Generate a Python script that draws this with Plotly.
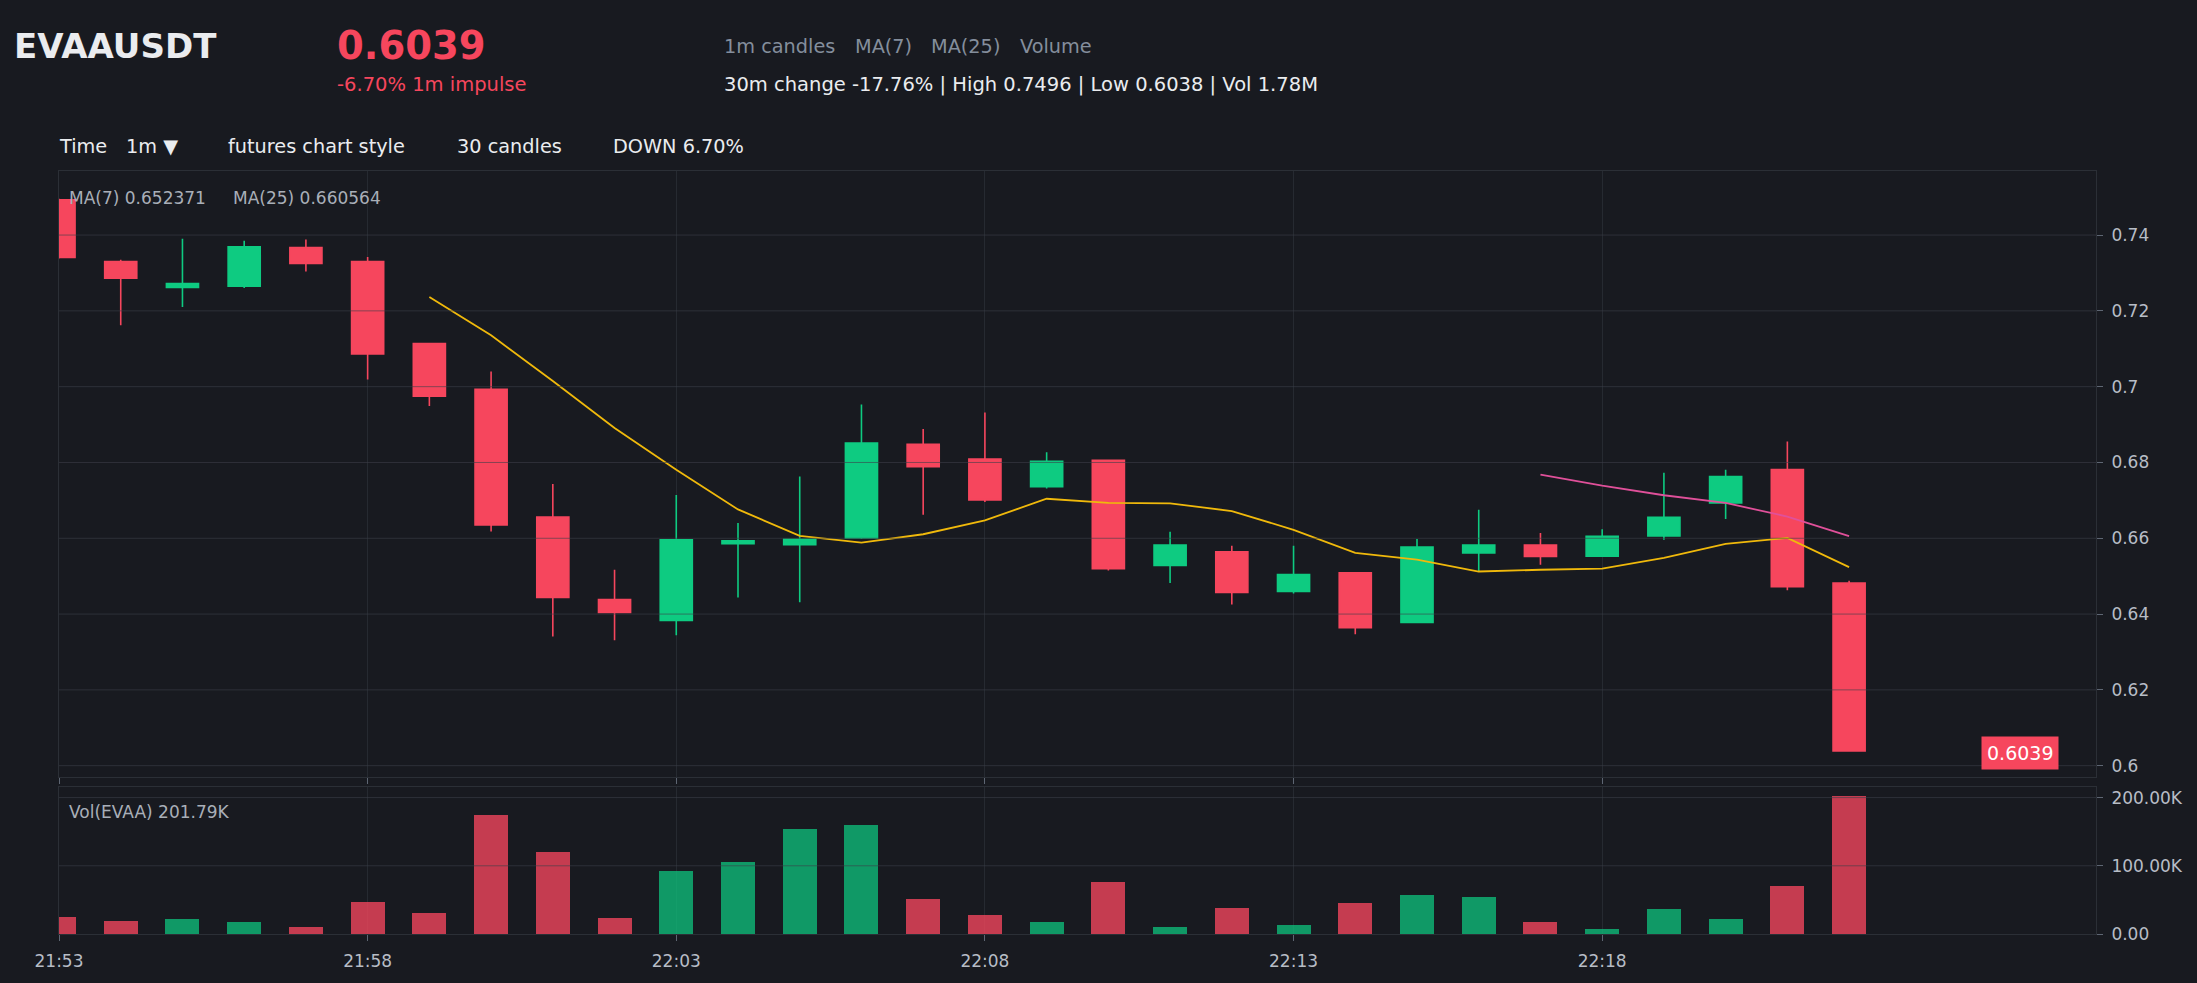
import plotly.graph_objects as go

# ---------------- data ----------------
DAY = "2025-01-01 "
times = ["21:53", "21:54", "21:55", "21:56", "21:57", "21:58", "21:59", "22:00", "22:01", "22:02",
         "22:03", "22:04", "22:05", "22:06", "22:07", "22:08", "22:09", "22:10", "22:11", "22:12",
         "22:13", "22:14", "22:15", "22:16", "22:17", "22:18", "22:19", "22:20", "22:21", "22:22"]

opens = [0.7493, 0.7330, 0.7262, 0.7265, 0.7367, 0.7330, 0.7114, 0.6993, 0.6656, 0.6438,
         0.6383, 0.6586, 0.6583, 0.6601, 0.6848, 0.6809, 0.6736, 0.6806, 0.6528, 0.6564,
         0.6460, 0.6509, 0.6378, 0.6561, 0.6582, 0.6553, 0.6606, 0.6693, 0.6781, 0.6482]
highs = [0.7496, 0.7335, 0.7390, 0.7385, 0.7388, 0.7342, 0.7116, 0.7040, 0.6743, 0.6517,
         0.6714, 0.6640, 0.6763, 0.6953, 0.6888, 0.6932, 0.6827, 0.6808, 0.6617, 0.6580,
         0.6580, 0.6510, 0.6598, 0.6675, 0.6614, 0.6624, 0.6773, 0.6781, 0.6855, 0.6488]
lows = [0.7338, 0.7162, 0.7210, 0.7260, 0.7304, 0.7019, 0.6949, 0.6618, 0.6341, 0.6331,
        0.6344, 0.6444, 0.6431, 0.6598, 0.6662, 0.6696, 0.6731, 0.6515, 0.6482, 0.6425,
        0.6454, 0.6347, 0.6377, 0.6513, 0.6530, 0.6552, 0.6596, 0.6651, 0.6463, 0.6038]
closes = [0.7341, 0.7286, 0.7272, 0.7369, 0.7325, 0.7086, 0.6975, 0.6635, 0.6444, 0.6404,
          0.6596, 0.6593, 0.6597, 0.6851, 0.6789, 0.6701, 0.6803, 0.6520, 0.6582, 0.6457,
          0.6504, 0.6364, 0.6577, 0.6582, 0.6552, 0.6605, 0.6655, 0.6763, 0.6472, 0.6039]
volumes = [24900, 19000, 22000, 17600, 10200, 46800, 30700, 174100, 120000, 23400,
           92200, 105400, 153700, 159500, 51200, 27800, 17600, 76100, 10200, 38000,
           13200, 45400, 57100, 54100, 17600, 7300, 36600, 22000, 70200, 201790]

ma7 = [None, None, None, None, None, None, 0.72363, 0.71354, 0.70151, 0.68911,
       0.67807, 0.66761, 0.66063, 0.65886, 0.66106, 0.66473, 0.67043, 0.66934, 0.66919, 0.66719,
       0.66223, 0.65616, 0.65439, 0.65123, 0.65169, 0.65201, 0.65484, 0.65854, 0.66009, 0.65240]
ma25 = [None] * 24 + [0.67682, 0.67388, 0.67135, 0.66932, 0.66573, 0.66058]

time_ticks = ["21:53", "21:58", "22:03", "22:08", "22:13", "22:18"]
price_ticks = [0.60, 0.62, 0.64, 0.66, 0.68, 0.70, 0.72, 0.74]
vol_ticks = [0, 100000, 200000]
vol_tick_text = ["0.00", "100.00K", "200.00K"]
last_price_text = "0.6039"
last_price = 0.6039

# ---------------- styling ----------------
BG = "#181a20"
RED = "#f6465d"
GREEN = "#0ecb81"
VRED = "rgba(246,70,93,0.78)"
VGREEN = "rgba(14,203,129,0.72)"
GRID = "#262a31"
BORDER = "#2b2f36"
TICKC = "#b7bdc6"
FONT = "DejaVu Sans"

W, H = 2197, 983
L, R, T, B = 59, 101, 171, 47
PW = W - L - R
PH = H - T - B

x = [DAY + t for t in times]
xt = [DAY + t for t in time_ticks]
vcolors = [VGREEN if c >= o else VRED for o, c in zip(opens, closes)]

fig = go.Figure()
fig.add_trace(go.Candlestick(
    x=x, open=opens, high=highs, low=lows, close=closes,
    increasing=dict(line=dict(color=GREEN, width=1.6), fillcolor=GREEN),
    decreasing=dict(line=dict(color=RED, width=1.6), fillcolor=RED),
    xaxis="x", yaxis="y", hoverinfo="skip", showlegend=False))
fig.add_trace(go.Scatter(x=x, y=ma7, mode="lines", line=dict(color="#f0b90b", width=1.8),
                         xaxis="x", yaxis="y", hoverinfo="skip", showlegend=False))
fig.add_trace(go.Scatter(x=x, y=ma25, mode="lines", line=dict(color="#e0509a", width=1.8),
                         xaxis="x", yaxis="y", hoverinfo="skip", showlegend=False))
fig.add_trace(go.Bar(x=x, y=volumes, marker=dict(color=vcolors, line=dict(width=0)),
                     width=33000, xaxis="x2", yaxis="y2", hoverinfo="skip", showlegend=False))


def px_x(px):
    return (px - L) / PW


def px_y(py):
    return (H - B - py) / PH


def ann(text, px, py, size, color, bold=False):
    if bold:
        text = "<b>" + text + "</b>"
    return dict(text=text, x=px_x(px), y=px_y(py), xref="paper", yref="paper",
                xanchor="left", yanchor="middle", showarrow=False,
                font=dict(family=FONT, size=size, color=color))


annotations = [
    ann("EVAAUSDT", 12, 46, 34, "#eaecef", bold=True),
    ann(last_price_text, 335, 45, 38.5, RED, bold=True),
    ann("-6.70% 1m impulse", 335, 84, 19.5, RED),
    ann("1m candles", 722, 46, 19.3, "#848e9c"),
    ann("MA(7)", 853, 46, 19.3, "#848e9c"),
    ann("MA(25)", 929, 46, 19.3, "#848e9c"),
    ann("Volume", 1018, 46, 19.3, "#848e9c"),
    ann("30m change -17.76% | High 0.7496 | Low 0.6038 | Vol 1.78M", 722, 84, 19.5, "#eaecef"),
    ann("Time", 57, 146, 19.3, "#eaecef"),
    ann("1m ▼", 124, 146, 19.3, "#eaecef"),
    ann("futures chart style", 226, 146, 19.3, "#eaecef"),
    ann("30 candles", 455, 146, 19.3, "#eaecef"),
    ann("DOWN 6.70%", 611, 146, 19.3, "#eaecef"),
    ann("MA(7) 0.652371", 67, 198, 17, "#a9afb8"),
    ann("MA(25) 0.660564", 231, 198, 17, "#a9afb8"),
    ann("Vol(EVAA) 201.79K", 67, 814, 17, "#a9afb8"),
    dict(text=last_price_text, x=(2020 - L) / PW, y=last_price, xref="x domain", yref="y",
         xanchor="center", yanchor="middle", yshift=-2, showarrow=False, bgcolor=RED, borderpad=5,
         font=dict(family=FONT, size=19, color="#ffffff")),
]

shapes = []
for v in price_ticks:
    shapes.append(dict(type="line", xref="x domain", x0=0, x1=1, yref="y", y0=v, y1=v,
                       line=dict(color="rgba(60,64,74,0.6)", width=1), layer="above"))
for v in vol_ticks[1:]:
    shapes.append(dict(type="line", xref="x2 domain", x0=0, x1=1, yref="y2", y0=v, y1=v,
                       line=dict(color="rgba(60,64,74,0.6)", width=1), layer="above"))

xcommon = dict(type="date", range=[DAY + "21:53", DAY + "22:26"], tickvals=xt,
               ticks="outside", ticklen=6, tickcolor="#5e6673", showline=True, mirror=True,
               linecolor=BORDER, linewidth=1, showgrid=True, gridcolor=GRID, gridwidth=1, zeroline=False)
ycommon = dict(side="right", ticks="outside", ticklen=6, tickcolor="#5e6673", showline=True, mirror=True,
               linecolor=BORDER, linewidth=1, showgrid=False, zeroline=False, ticklabelstandoff=5,
               tickfont=dict(family=FONT, size=17, color=TICKC))

fig.update_layout(
    width=W, height=H,
    paper_bgcolor=BG, plot_bgcolor=BG,
    margin=dict(l=L, r=R, t=T, b=B, pad=0),
    font=dict(family=FONT, color=TICKC),
    showlegend=False,
    boxgap=0.48,
    boxgroupgap=0,
    bargap=0,
    xaxis=dict(domain=[0, 1], anchor="y", showticklabels=False, rangeslider=dict(visible=False), **xcommon),
    xaxis2=dict(domain=[0, 1], anchor="y2", matches="x", showticklabels=True, tickformat="%H:%M",
                ticklabelstandoff=6, tickfont=dict(family=FONT, size=17, color=TICKC), **xcommon),
    yaxis=dict(domain=[0.2052, 1], anchor="x", range=[0.5969, 0.7569], tickvals=price_ticks, **ycommon),
    yaxis2=dict(domain=[0, 0.1922], anchor="x2", range=[0, 215000], tickvals=vol_ticks,
                ticktext=vol_tick_text, **ycommon),
    annotations=annotations,
    shapes=shapes,
    hovermode=False,
)

fig.write_html("out.html")
